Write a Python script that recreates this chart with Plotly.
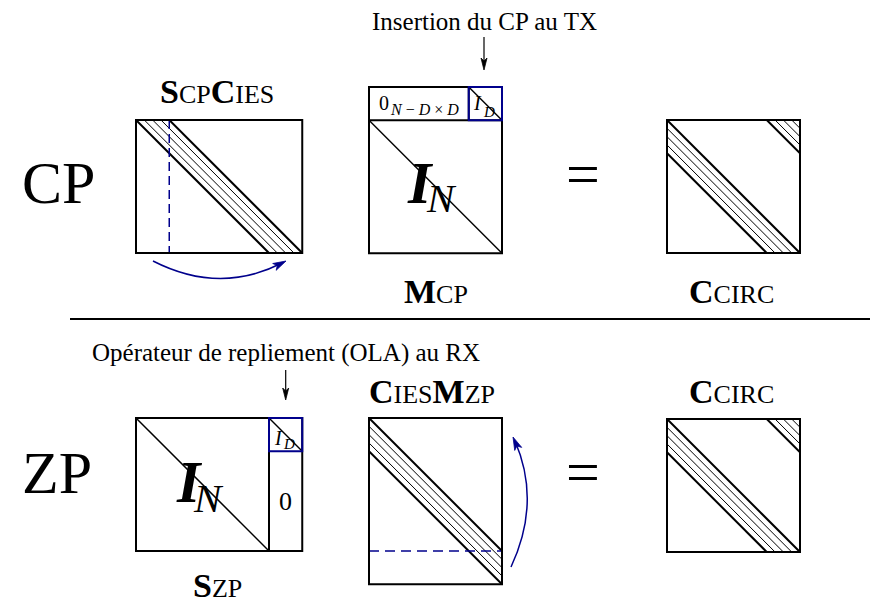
import plotly.graph_objects as go

# ---------------- data (logical content of the diagram) ----------------
N_CELLS = 4                      # size of the N x N identity block (in cells)
D_CELLS = 1                      # guard length D (in cells)
BAND_TAPS = [0.0, 0.25, 0.5, 0.75, 1.0]   # channel taps spread over D
ROW_LABELS = ["CP", "ZP"]
CP_TITLES = [[("S", "CP"), ("C", "IES")], [("M", "CP")], [("C", "CIRC")]]
ZP_TITLES = [[("S", "ZP")], [("C", "IES"), ("M", "ZP")], [("C", "CIRC")]]
NOTES = ["Insertion du CP au TX", "Opérateur de repliement (OLA) au RX"]
ZERO_BLOCK = ["0", "N − D × D"]
IDENT_BIG = ["I", "N"]
IDENT_SMALL = ["I", "D"]

# ---------------- geometry / styles ----------------
W, H = 878, 609                  # window size
PAD = 8                          # default page margin of the browser
C = 33.25                        # pixels per cell
NAVY = "#00008c"
FONT = "Liberation Serif"
shapes = []
annotations = []


def line(x0, y0, x1, y1, w=1.0, color="black", dash=None):
    ln = dict(color=color, width=w)
    if dash:
        ln["dash"] = dash
    shapes.append(dict(type="line", xref="x", yref="y", x0=x0, y0=y0, x1=x1, y1=y1, line=ln))


def rect(x0, y0, x1, y1, w=2.0, color="black"):
    shapes.append(dict(type="rect", xref="x", yref="y", x0=x0, y0=y0, x1=x1, y1=y1,
                       line=dict(color=color, width=w), fillcolor="rgba(0,0,0,0)"))


def head(tx, ty, dx, dy, L=12, hw=3.2, color="black"):
    n = (dx * dx + dy * dy) ** 0.5
    ux, uy = dx / n, dy / n
    px, py = -uy, ux
    bx, by = tx - ux * L, ty - uy * L
    nx, ny = tx - ux * L * 0.75, ty - uy * L * 0.75
    path = (f"M {tx},{ty} L {bx + px * hw},{by + py * hw} L {nx},{ny} "
            f"L {bx - px * hw},{by - py * hw} Z")
    shapes.append(dict(type="path", xref="x", yref="y", path=path,
                       fillcolor=color, line=dict(color=color, width=0.8)))


def text(x, base, s, size, anchor="center", color="black"):
    annotations.append(dict(x=x, y=base - 0.3375 * size, xref="x", yref="y", text=s,
                            showarrow=False, xanchor=anchor, yanchor="middle",
                            font=dict(family=FONT, size=size, color=color)))


def title(x, base, terms):
    s = "".join(f"<b>{m}</b><span style=\"font-size:26px\">{sub}</span>" for m, sub in terms)
    text(x, base, s, 34)


N, D = N_CELLS * C, D_CELLS * C


def band_upper(ox, oy):        # S_CP C_IES : taps shift the columns
    for t in BAND_TAPS:
        d = t * D
        line(ox + d, oy, ox + d + N, oy + N, 2 if t in (0, 1) else 1)


def band_lower(ox, oy):        # C_IES M_ZP : taps shift the rows
    for t in BAND_TAPS:
        d = t * D
        line(ox, oy + d, ox + N, oy + d + N, 2 if t in (0, 1) else 1)


def band_circ(ox, oy):         # circulant matrix
    for t in BAND_TAPS:
        d = t * D
        w = 2 if t in (0, 1) else 1
        line(ox, oy + d, ox + N - d, oy + N, w)
        if t > 0:
            line(ox + N - d, oy, ox + N, oy + d, w)


# ---- row CP ----
ax_, ay_ = 136, 120           # S_CP C_IES
band_upper(ax_, ay_)
line(ax_ + D, ay_, ax_ + D, ay_ + N, 1.5, NAVY, "9px,5px")
rect(ax_, ay_, ax_ + N + D, ay_ + N)

bx_, by_ = 369, 87            # M_CP
line(bx_, by_ + D, bx_ + N, by_ + N + D, 1.5)
line(bx_, by_ + D, bx_ + N, by_ + D, 2)
line(bx_ + N - D, by_, bx_ + N - D, by_ + D, 2)
line(bx_ + N - D, by_, bx_ + N, by_ + D, 1.5)
rect(bx_, by_, bx_ + N, by_ + N + D)
rect(bx_ + N - D, by_, bx_ + N, by_ + D, 2, NAVY)

cx_, cy_ = 667, 120           # C_CIRC
band_circ(cx_, cy_)
rect(cx_, cy_, cx_ + N, cy_ + N)

# ---- separator ----
line(70, 319, W, 319, 2)

# ---- row ZP ----
ex_, ey_ = 136, 418           # S_ZP
line(ex_, ey_, ex_ + N, ey_ + N, 1.5)
line(ex_ + N, ey_, ex_ + N, ey_ + N, 2)
line(ex_ + N, ey_, ex_ + N + D, ey_ + D, 1.5)
rect(ex_, ey_, ex_ + N + D, ey_ + N)
rect(ex_ + N, ey_, ex_ + N + D, ey_ + D, 2, NAVY)

fx_, fy_ = 369, 418           # C_IES M_ZP
band_lower(fx_, fy_)
line(fx_, fy_ + N, fx_ + N, fy_ + N, 1.5, NAVY, "10px,6px")
rect(fx_, fy_, fx_ + N, fy_ + N + D)

gx_, gy_ = 667, 419           # C_CIRC
band_circ(gx_, gy_)
rect(gx_, gy_, gx_ + N, gy_ + N)

# ---- curved blue arrows ----
p0, q, p1 = (153, 261), (219.5, 295), (286, 261)
shapes.append(dict(type="path", xref="x", yref="y",
                   path=f"M {p0[0]},{p0[1]} Q {q[0]},{q[1]} {p1[0] - 4},{p1[1] + 2}",
                   line=dict(color=NAVY, width=1.5)))
head(p1[0], p1[1], p1[0] - q[0], p1[1] - q[1], 13, 3.8, NAVY)

p0, q, p1 = (511, 567), (541.4, 502), (513, 437)
shapes.append(dict(type="path", xref="x", yref="y",
                   path=f"M {p0[0]},{p0[1]} Q {q[0]},{q[1]} {p1[0] + 2},{p1[1] + 4}",
                   line=dict(color=NAVY, width=1.5)))
head(p1[0], p1[1], p1[0] - q[0], p1[1] - q[1], 13, 3.8, NAVY)

# ---- black pointer arrows ----
line(484, 37, 484, 62, 1.2)
head(484, 70, 0, 1, 12, 3.0)
line(285.7, 370, 285.7, 392, 1.2)
head(285.7, 400, 0, 1, 12, 3.0)

# ---- texts ----
text(484, 30, NOTES[0], 25)
text(285.7, 361, NOTES[1], 25)

text(20, 203, ROW_LABELS[0], 60, "left")
text(20, 493, ROW_LABELS[1], 60, "left")
text(583, 194, "=", 60)
text(583, 492, "=", 60)

title(217, 103, CP_TITLES[0])
title(435.5, 303, CP_TITLES[1])
title(731.7, 303, CP_TITLES[2])
title(217, 597, ZP_TITLES[0])
title(432, 403, ZP_TITLES[1])
title(731.7, 403, ZP_TITLES[2])

# identity blocks I_N
text(420, 203, f"<b><i>{IDENT_BIG[0]}</i></b>", 60)
text(441, 212, f"<i>{IDENT_BIG[1]}</i>", 41)
text(189, 502, f"<b><i>{IDENT_BIG[0]}</i></b>", 60)
text(208, 512, f"<i>{IDENT_BIG[1]}</i>", 41)

# zero block 0_{N-D x D}
text(377, 110, ZERO_BLOCK[0], 20, "left")
sub = ZERO_BLOCK[1].replace("N", "<i>N</i>").replace("D", "<i>D</i>")
text(388, 115, sub, 16, "left")
# I_D blocks
text(471, 110, f"<i>{IDENT_SMALL[0]}</i>", 20, "left")
text(481, 117, f"<i>{IDENT_SMALL[1]}</i>", 15, "left")
text(272, 445, f"<i>{IDENT_SMALL[0]}</i>", 20, "left")
text(281, 449, f"<i>{IDENT_SMALL[1]}</i>", 15, "left")
# zero column of S_ZP
text(285.6, 510, "0", 26)

# the figure sits inside the page margin; axis ranges are chosen so that
# one data unit equals one pixel of the browser window
fig = go.Figure()
fig.update_layout(
    width=W - 2 * PAD, height=H - 2 * PAD,
    margin=dict(l=0, r=0, t=0, b=0, pad=0),
    paper_bgcolor="white", plot_bgcolor="white",
    xaxis=dict(range=[PAD, W - PAD], visible=False, fixedrange=True),
    yaxis=dict(range=[H - PAD, PAD], visible=False, fixedrange=True),
    shapes=shapes, annotations=annotations, showlegend=False,
)
fig.write_html("out.html")
